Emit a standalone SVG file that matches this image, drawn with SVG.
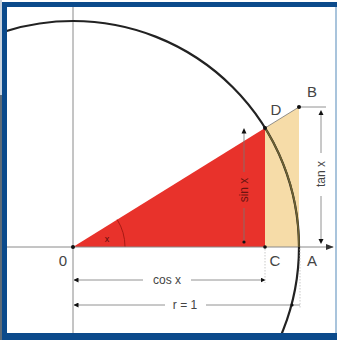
<svg xmlns="http://www.w3.org/2000/svg" width="337" height="340" viewBox="0 0 337 340">
<style>
.lbl{font-family:"Liberation Sans",Arial,sans-serif;font-size:15px;fill:#444;text-anchor:middle}
.dim{font-family:"Liberation Sans",Arial,sans-serif;font-size:12px;fill:#444;text-anchor:middle}
.axis{stroke:#8a8a8a;stroke-width:1;fill:none}
.dl{stroke:#777;stroke-width:0.8;fill:none}
.ext{stroke:#bbb;stroke-width:0.8;fill:none;stroke-dasharray:1.5 1.5}
</style>
<defs>
<clipPath id="inner"><rect x="7" y="7" width="328" height="326"/></clipPath>
<marker id="ah" viewBox="0 0 10 10" refX="9" refY="5" markerWidth="5" markerHeight="5" orient="auto-start-reverse" markerUnits="userSpaceOnUse"><path d="M0,0 L10,5 L0,10 Z" fill="#111"/></marker>
<marker id="ax" viewBox="0 0 10 10" refX="9" refY="5" markerWidth="8" markerHeight="8" orient="auto" markerUnits="userSpaceOnUse"><path d="M0,1 L10,5 L0,9 Z" fill="#333"/></marker>
</defs>
<rect x="0" y="0" width="337" height="340" fill="#fff"/>
<rect x="0" y="0" width="2" height="95" fill="#c9d3de"/>
<rect x="0" y="95" width="2" height="245" fill="#5d6b77"/>
<g clip-path="url(#inner)">
<g id="shapes">
<polygon id="tri" points="73,247 265,128 265,247" fill="#e8322b"/>
<polygon id="trap" points="265,128 299,107 299,247 265,247" fill="#f6dca8"/>
<path d="M125,247 A52,52 0 0,0 117.2,219.6" fill="none" stroke="#a81a14" stroke-width="1"/>
</g>
<g id="axes">
<line class="axis" x1="73" y1="7" x2="73" y2="333"/>
<line class="axis" x1="7" y1="247" x2="333" y2="247" marker-end="url(#ax)"/>
</g>
<g id="circle">
<circle cx="73" cy="247" r="226" fill="none" stroke="#222" stroke-width="2.2"/>
<path d="M265.1,128 A226,226 0 0,1 299,247" fill="none" stroke="#6e6232" stroke-width="1.6"/>
</g>
<g id="connectors">
<line class="dl" x1="265" y1="128" x2="299" y2="107" stroke="#d9b98a"/>
<line class="dl" x1="299" y1="107" x2="326" y2="107"/>
<line class="dl" x1="244" y1="132" x2="244" y2="172"/>
<line class="dl" x1="244" y1="208" x2="244" y2="242"/>
<line class="dl" x1="321" y1="112" x2="321" y2="153"/>
<line class="dl" x1="321" y1="196" x2="321" y2="242"/>
<line class="dl" x1="74" y1="280" x2="143" y2="280" marker-start="url(#ah)"/>
<line class="dl" x1="191" y1="280" x2="265" y2="280" marker-end="url(#ah)"/>
<line class="dl" x1="74" y1="305" x2="165" y2="305" marker-start="url(#ah)"/>
<line class="dl" x1="206" y1="305" x2="300" y2="305"/>
<line class="ext" x1="265" y1="249" x2="265" y2="283"/>
<line class="ext" x1="300" y1="249" x2="300" y2="308"/>
<path d="M244,128 L241.5,133.5 L246.5,133.5 Z" fill="#111"/>
<circle cx="244" cy="242" r="1.6" fill="#111"/>
<path d="M321,110 L318.5,115 L323.5,115 Z" fill="#111"/>
<path d="M321,244 L318.5,239 L323.5,239 Z" fill="#111"/>
<circle cx="292" cy="305" r="1.6" fill="#111"/>
</g>
<g id="points">
<circle cx="73" cy="247" r="2" fill="#111"/>
<circle cx="265" cy="128" r="2" fill="#111"/>
<circle cx="299" cy="107" r="2" fill="#111"/>
<circle cx="265" cy="247" r="1.8" fill="#111"/>
</g>
</g>
<g id="labels">
<text class="lbl" x="276" y="115">D</text>
<text class="lbl" x="312" y="97">B</text>
<text class="lbl" x="275" y="266">C</text>
<text class="lbl" x="312" y="266">A</text>
<text class="lbl" x="63" y="266">0</text>
<text x="107" y="242" font-family="Liberation Sans,Arial,sans-serif" font-size="9" fill="#5a0d0a" text-anchor="middle">x</text>
<text class="dim" x="167" y="284">cos x</text>
<text class="dim" x="185" y="309">r = 1</text>
<text class="dim" transform="translate(248,190) rotate(-90)" style="fill:#6a1410">sin x</text>
<text class="dim" transform="translate(325,174) rotate(-90)">tan x</text>
</g>
<g id="frame">
<rect x="2" y="2" width="335" height="5" fill="#0b4a8b"/>
<rect x="2" y="2" width="5" height="338" fill="#0b4a8b"/>
<rect x="2" y="333" width="335" height="7" fill="#0b4a8b"/>
<rect x="335" y="7" width="2" height="326" fill="#a9c4dc"/>
</g>
</svg>
